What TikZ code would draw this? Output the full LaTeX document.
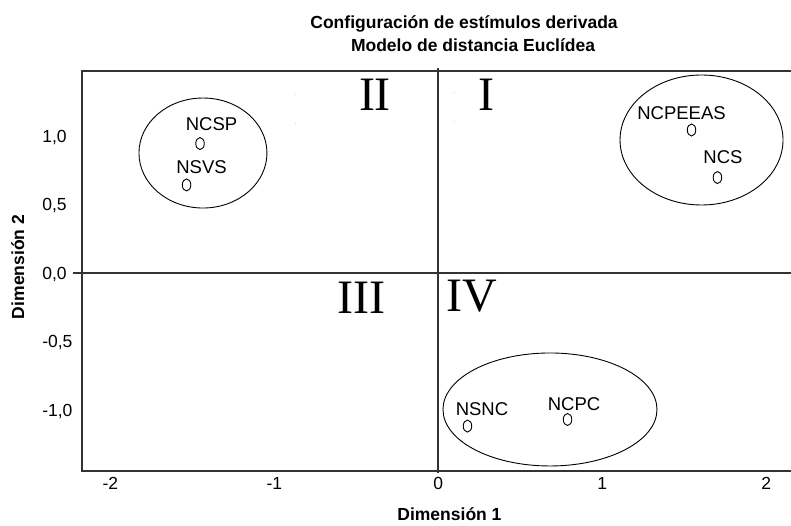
\documentclass[tikz,border=0pt]{standalone}
\usepackage{fontspec}
\setmainfont{Liberation Sans}
\newfontfamily\romanfont{Liberation Serif}
\usetikzlibrary{shapes.geometric}

\begin{document}
\begin{tikzpicture}[x=164pt, y=137pt,
    plotframe/.style={draw=black!80, line width=1.8pt},
    cluster/.style={draw=black, line width=0.9pt},
    obs/.style={ellipse, draw, line width=0.9pt, minimum width=8.5pt, minimum height=12pt, inner sep=0pt},
    lbl/.style={font=\fontsize{18.5}{19}\selectfont, inner sep=0pt},
    quad/.style={font=\romanfont\fontsize{48}{48}\selectfont, inner sep=0pt},
    ticklbl/.style={font=\fontsize{17.5}{18}\selectfont, inner sep=0pt, text depth=0pt},
    boldlbl/.style={font=\bfseries\fontsize{17.5}{18}\selectfont, inner sep=0pt},
    speck/.style={fill=orange!60, inner sep=0pt, minimum size=1pt, circle}]
        \useasboundingbox (-438.3pt,-251.7pt) rectangle (352.7pt,273.3pt);

        % titles
        \node[boldlbl, anchor=base] (title1) at (0.157,1.787) {Configuración de estímulos derivada};
        \node[boldlbl, anchor=base] (title2) at (0.212,1.619) {Modelo de distancia Euclídea};

        % frame and zero lines
        \draw[plotframe] (2.1506,1.479) -- (-2.173,1.479) -- (-2.173,-1.443) -- (2.1506,-1.443);
        \draw[plotframe] (-2.228,0) -- (2.1506,0);
        \draw[plotframe] (0,1.501) -- (0,-1.458);

        % axis ticks
        \foreach \v/\t in {1/{1,0}, 0.5/{0,5}, 0/{0,0}, -0.5/{-0,5}, -1/{-1,0}}
          \node[ticklbl, anchor=west] at (-2.416,\v) {\t};
        \foreach \v in {-2,-1,0,1,2}
          \node[ticklbl] at (\v,-1.531) {\v};

        \node[boldlbl, anchor=base] (xlab) at (0.068,-1.801) {Dimensión 1};
        \node[boldlbl, anchor=base, rotate=90] (ylab) at (-2.526,0.046) {Dimensión 2};

        % quadrants
        \node[quad] (q2) at (-0.386,1.305) {II};
        \node[quad] (q1) at (0.294,1.305) {I};
        \node[quad] (q3) at (-0.468,-0.177) {III};
        \node[quad] (q4) at (0.202,-0.169) {IV};

        \node[speck] (s1) at (-0.870,1.308) {};
        \node[speck] (s2) at (-0.870,1.095) {};
        \node[speck] (s3) at (0.098,1.318) {};
        \node[speck] (s4) at (0.098,1.107) {};

        % stimuli
        \node[obs] (ncsp)    at (-1.453,0.947) {};
        \node[obs] (nsvs)    at (-1.535,0.645) {};
        \node[obs] (ncpeeas) at (1.544,1.046) {};
        \node[obs] (ncs)     at (1.702,0.699) {};
        \node[obs] (nsnc)    at (0.178,-1.115) {};
        \node[obs] (ncpc)    at (0.788,-1.067) {};

        \node[lbl] (ncspl)    at ([shift={(11.5pt,19.5pt)}]ncsp) {NCSP};
        \node[lbl] (nsvsl)    at ([shift={(15pt,18pt)}]nsvs) {NSVS};
        \node[lbl] (ncpeeasl) at ([shift={(-10pt,16.5pt)}]ncpeeas) {NCPEEAS};
        \node[lbl] (ncsl)     at ([shift={(5.5pt,20.5pt)}]ncs) {NCS};
        \node[lbl] (nsncl)    at ([shift={(14.5pt,17pt)}]nsnc) {NSNC};
        \node[lbl] (ncpcl)    at ([shift={(6.5pt,15pt)}]ncpc) {NCPC};

        % groups
        \draw[cluster] (-1.435,0.878) ellipse [x radius=64pt, y radius=55pt];
        \draw[cluster] (1.605,0.973) ellipse [x radius=81.5pt, y radius=65pt];
        \draw[cluster] (0.681,-0.994) ellipse [x radius=107pt, y radius=56.5pt];
      \end{tikzpicture}
\end{document}
